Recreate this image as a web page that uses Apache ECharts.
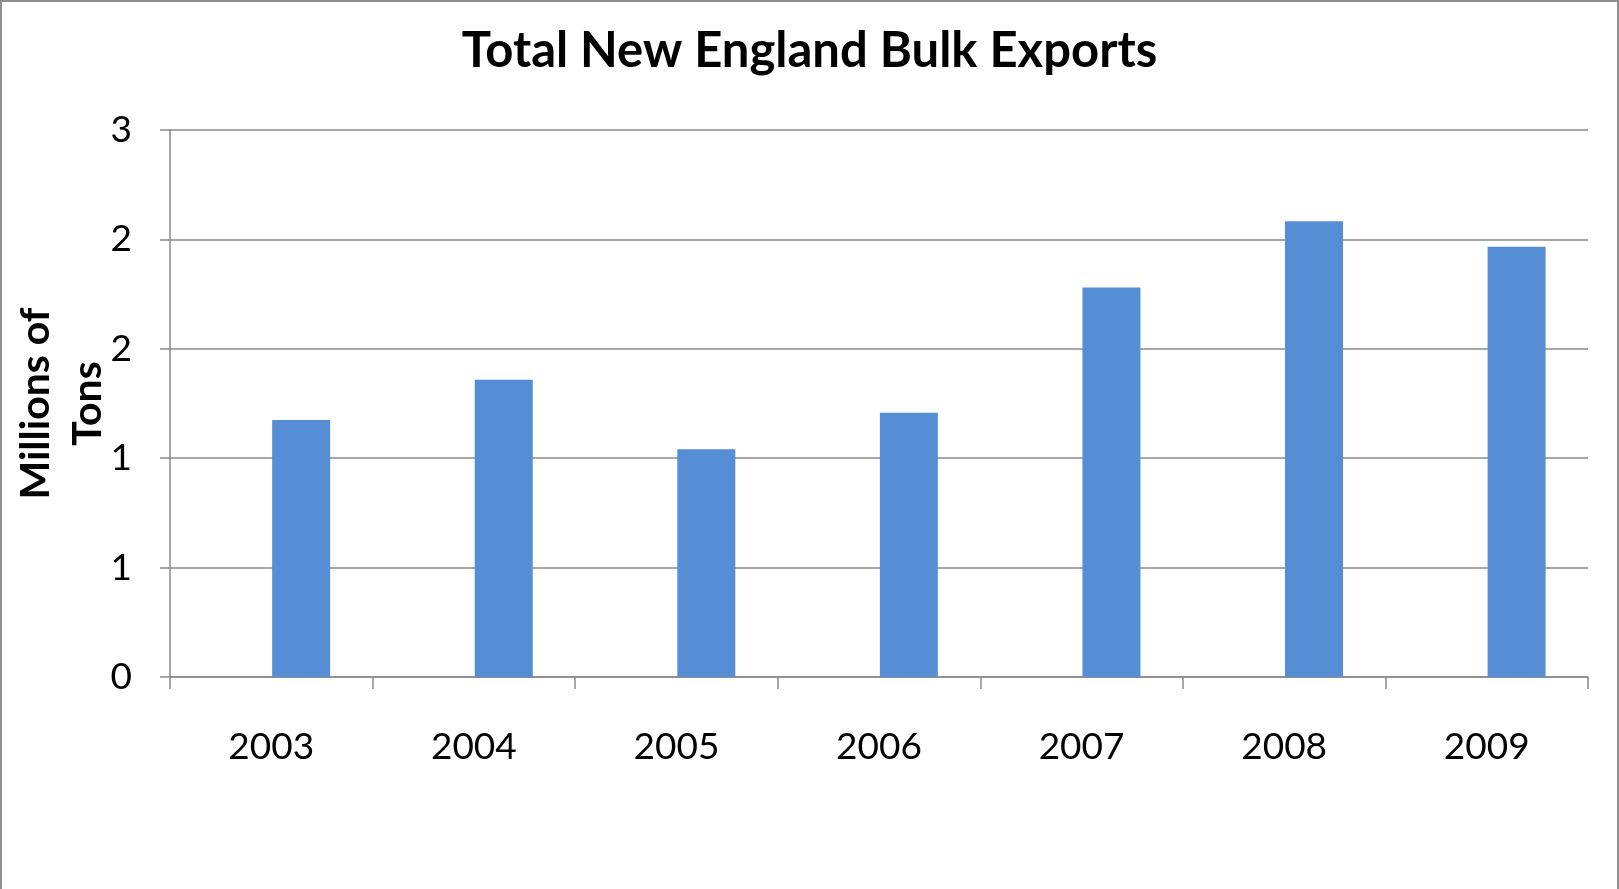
<!DOCTYPE html>
<html>
<head>
<meta charset="utf-8">
<title>Total New England Bulk Exports</title>
<script src="https://cdn.jsdelivr.net/npm/echarts@6/dist/echarts.min.js"></script>
<style>
  html, body { margin: 0; padding: 0; background: #ffffff; }
  #chart {
    width: 1619px; height: 889px; box-sizing: border-box;
    border-top: 2px solid #8f8f8f; border-left: 2px solid #8f8f8f; border-right: 2px solid #8f8f8f;
  }
</style>
</head>
<body>
<div id="chart"></div>
<script>
// Annual bulk exports, millions of tons
const years = ['2003', '2004', '2005', '2006', '2007', '2008', '2009'];
const exportsMt = [1.175, 1.359, 1.041, 1.208, 1.780, 2.083, 1.966];
// Empty companion series: keeps its slot in each cluster, so the export bars sit right of centre
const companion = [];
// Axis labels are shown rounded to whole numbers (0, 0.5, 1, ... 2.5)
const yTickLabels = ['0', '1', '1', '2', '2', '3'];

const FONT = 'Lato, "Open Sans", sans-serif';
const GRAY = '#8a8a8a';

const chart = echarts.init(document.getElementById('chart'), null, { renderer: 'canvas' });
chart.setOption({
  animation: false,
  title: {
    text: 'Total New England Bulk Exports',
    left: 'center',
    top: 20,
    textStyle: { fontFamily: FONT, fontSize: 49, fontWeight: 'bold', color: '#000' }
  },
  grid: { left: 168, right: 29, top: 128, bottom: 212, outerBoundsMode: 'none', containLabel: false },
  xAxis: {
    type: 'category',
    data: years,
    boundaryGap: true,
    axisLine: { lineStyle: { color: GRAY, width: 1.5 } },
    axisTick: { show: true, length: 12, lineStyle: { color: GRAY, width: 1.5 } },
    axisLabel: { margin: 52, fontFamily: FONT, fontSize: 37, color: '#000' }
  },
  yAxis: {
    type: 'value',
    min: 0, max: 2.5, interval: 0.5,
    name: 'Millions of\nTons',
    nameLocation: 'middle',
    nameRotate: 90,
    nameGap: 56,
    nameMoveOverlap: false,
    nameTextStyle: { fontFamily: FONT, fontSize: 41, fontWeight: 'bold', color: '#000', lineHeight: 52 },
    axisLine: { show: true, lineStyle: { color: GRAY, width: 1.5 } },
    axisTick: { show: true, length: 10, lineStyle: { color: GRAY, width: 1.5 } },
    splitLine: { show: true, lineStyle: { color: GRAY, width: 1.5 } },
    axisLabel: {
      margin: 38, fontFamily: FONT, fontSize: 37, color: '#000',
      formatter: (v, i) => yTickLabels[i]
    }
  },
  series: [
    {
      type: 'bar',
      data: companion,
      barWidth: 58,
      barGap: '3%',
      itemStyle: { color: '#C0504D' }
    },
    {
      type: 'bar',
      data: exportsMt,
      barWidth: 58,
      barGap: '3%',
      itemStyle: { color: '#558ED5' }
    }
  ]
});
</script>
</body>
</html>
